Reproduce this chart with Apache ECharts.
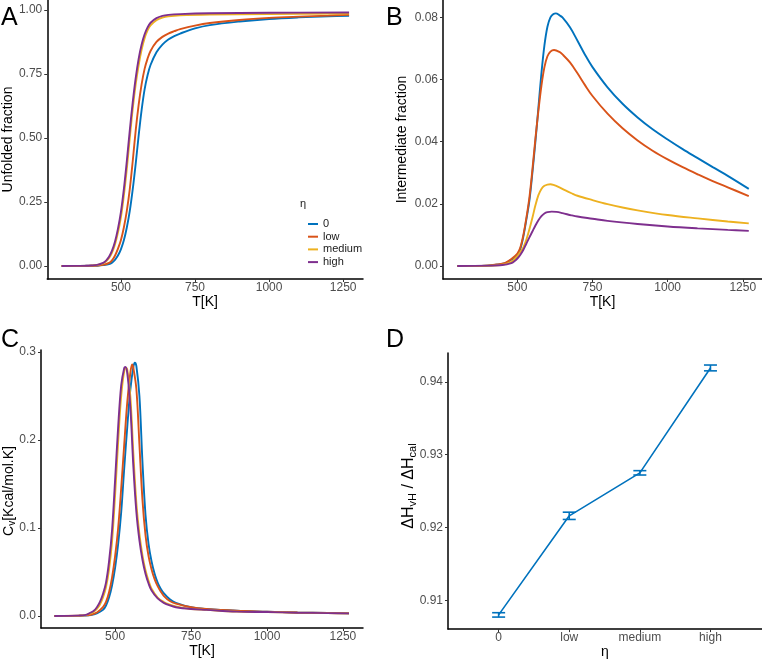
<!DOCTYPE html>
<html>
<head>
<meta charset="utf-8">
<script src="https://cdn.jsdelivr.net/npm/echarts@6/dist/echarts.min.js"></script>
<style>html,body{margin:0;padding:0;background:#fff;}#c{width:762px;height:660px;}</style>
</head>
<body>
<div id="c"></div>
<script>
// ---------- Data ----------
const seriesNames = ['0', 'low', 'medium', 'high'];
const colors = ['#0072BD', '#D95319', '#EDB120', '#7E2F8E'];

// Panel A: unfolded fraction
const A0_T = [300,400,420,440,460,470,480,490,500,510,520,530,540,550,560,570,580,590,600,620,640,660,680,700,750,800,900,1000,1100,1200,1270];
const A0_v = [0,0.0005,0.001,0.003,0.007,0.013,0.024,0.041,0.065,0.10,0.15,0.215,0.30,0.40,0.51,0.61,0.69,0.745,0.785,0.835,0.865,0.885,0.898,0.908,0.928,0.941,0.955,0.965,0.971,0.975,0.977];
const A1_T = [300,400,420,440,460,470,480,490,500,510,520,530,540,550,560,570,580,590,600,620,640,660,680,700,750,800,900,1000,1100,1200,1270];
const A1_v = [0,0.0007,0.0015,0.004,0.012,0.022,0.04,0.067,0.10,0.15,0.215,0.30,0.41,0.53,0.63,0.71,0.77,0.81,0.84,0.875,0.895,0.908,0.917,0.925,0.939,0.949,0.961,0.969,0.974,0.978,0.981];
const A2_T = [300,380,400,420,440,450,460,470,480,490,500,510,520,530,540,550,560,570,580,590,600,620,640,660,700,800,1000,1270];
const A2_v = [0,0.0004,0.0012,0.0035,0.010,0.018,0.031,0.052,0.084,0.13,0.19,0.275,0.38,0.50,0.615,0.71,0.785,0.845,0.89,0.92,0.94,0.96,0.97,0.975,0.979,0.982,0.984,0.986];
const A3_T = [300,380,400,420,440,450,460,470,480,490,500,510,520,530,540,550,560,570,580,590,600,620,640,660,700,800,1000,1270];
const A3_v = [0,0.0005,0.0015,0.004,0.012,0.021,0.036,0.06,0.095,0.145,0.21,0.30,0.41,0.53,0.64,0.735,0.81,0.865,0.905,0.932,0.95,0.968,0.977,0.981,0.984,0.987,0.989,0.99];

// Panel B: intermediate fraction
const B0_T = [300,400,440,460,480,500,510,520,530,540,550,560,570,580,590,600,610,620,628,640,650,675,700,725,750,800,850,900,950,1000,1050,1100,1150,1200,1270];
const B0_v = [0,0.0001,0.0005,0.0009,0.002,0.0035,0.0055,0.0095,0.015,0.021,0.030,0.040,0.051,0.062,0.071,0.077,0.080,0.0811,0.0813,0.0807,0.0800,0.0768,0.0725,0.0680,0.0640,0.0575,0.0522,0.0478,0.0440,0.0407,0.0376,0.0347,0.0318,0.0290,0.0248];
const B1_T = [300,400,440,460,480,500,510,520,530,540,550,560,570,580,590,600,610,622,640,650,675,700,725,750,800,850,900,950,1000,1050,1100,1150,1200,1270];
const B1_v = [0,0.0001,0.0006,0.001,0.0022,0.004,0.006,0.010,0.0155,0.022,0.031,0.041,0.050,0.058,0.064,0.0675,0.069,0.0695,0.0689,0.0681,0.0655,0.0620,0.0582,0.0547,0.0490,0.0443,0.0404,0.0371,0.0343,0.0318,0.0295,0.0273,0.0253,0.0225];
const B2_T = [300,400,450,480,490,500,510,520,530,540,550,560,570,580,590,600,610,620,640,660,680,700,750,800,850,900,1000,1100,1200,1270];
const B2_v = [0,0.0001,0.0004,0.0013,0.0022,0.0032,0.0045,0.006,0.0085,0.0118,0.0155,0.0195,0.0228,0.0248,0.0258,0.0262,0.0263,0.0261,0.0253,0.0243,0.0234,0.0226,0.0212,0.0199,0.0188,0.0179,0.0164,0.0153,0.0143,0.0137];
const B3_T = [300,400,450,480,490,500,510,520,530,540,550,560,570,580,590,600,614,630,650,680,700,750,800,900,1000,1100,1200,1270];
const B3_v = [0,0.0001,0.0003,0.0009,0.0015,0.0024,0.0036,0.0052,0.0072,0.0092,0.0111,0.0130,0.0147,0.0160,0.0169,0.0173,0.0175,0.0174,0.0170,0.0163,0.0159,0.0152,0.0145,0.0135,0.0127,0.0121,0.0116,0.0113];

// Panel C: heat capacity
const C0_T = [300,400,420,440,460,470,480,490,500,510,520,530,540,550,560,565,570,580,590,600,610,620,630,640,650,660,680,700,750,800,900,1000,1100,1200,1270];
const C0_v = [0,0.0005,0.001,0.003,0.007,0.012,0.021,0.035,0.055,0.082,0.118,0.168,0.215,0.257,0.283,0.288,0.284,0.250,0.175,0.115,0.082,0.062,0.048,0.038,0.031,0.026,0.019,0.015,0.010,0.008,0.006,0.005,0.004,0.0035,0.003];
const C1_T = [300,400,420,440,460,470,480,490,500,510,520,530,540,550,556,560,570,580,590,600,610,620,630,640,650,660,680,700,750,800,900,1000,1100,1200,1270];
const C1_v = [0,0.0007,0.0015,0.004,0.010,0.016,0.027,0.044,0.068,0.100,0.145,0.195,0.243,0.276,0.286,0.282,0.258,0.195,0.132,0.092,0.068,0.053,0.042,0.034,0.028,0.023,0.017,0.014,0.010,0.008,0.006,0.005,0.004,0.0035,0.003];
const C2_T = [300,380,400,420,430,440,450,460,470,480,490,500,510,520,530,537,540,550,560,570,580,590,600,610,620,640,660,680,700,750,800,900,1000,1100,1200,1270];
const C2_v = [0,0.0004,0.0008,0.003,0.005,0.008,0.013,0.021,0.033,0.053,0.085,0.138,0.198,0.250,0.278,0.282,0.280,0.250,0.185,0.128,0.093,0.069,0.052,0.040,0.031,0.021,0.016,0.013,0.011,0.008,0.007,0.005,0.0045,0.0038,0.0033,0.003];
const C3_T = [300,380,400,420,430,440,450,460,470,480,490,500,510,520,530,534,540,550,560,570,580,590,600,610,620,640,660,680,700,750,800,900,1000,1100,1200,1270];
const C3_v = [0,0.0005,0.001,0.004,0.006,0.010,0.016,0.025,0.038,0.062,0.098,0.155,0.215,0.262,0.282,0.283,0.276,0.238,0.170,0.118,0.086,0.064,0.048,0.037,0.029,0.020,0.015,0.012,0.010,0.008,0.007,0.005,0.0045,0.0038,0.0033,0.003];

// Panel D: ratio with error bars
const D_cats = ['0', 'low', 'medium', 'high'];
const D_mean = [0.9080, 0.9216, 0.9275, 0.9419];
const D_err = [0.0003, 0.0005, 0.0003, 0.0004];

// Tick labels
const T_ticks = [500, 750, 1000, 1250];
const A_ticks = [0, 0.25, 0.5, 0.75, 1.0];
const B_ticks = [0, 0.02, 0.04, 0.06, 0.08];
const C_ticks = [0, 0.1, 0.2, 0.3];
const D_ticks = [0.91, 0.92, 0.93, 0.94];

// ---------- Build ----------
const FONT = "'Liberation Sans', Arial, sans-serif";
const pairs = (T, v) => T.map((t, i) => [t, v[i]]);

function xAxisT(gridIndex, min, max) {
  return {
    type: 'value', gridIndex, min, max,
    name: 'T[K]', nameLocation: 'middle', nameGap: 16,
    nameTextStyle: { fontSize: 14, color: '#000', fontFamily: FONT },
    axisLine: { show: true, onZero: false, lineStyle: { color: '#000', width: 1.5 } },
    axisTick: { show: true, length: 3, customValues: T_ticks, lineStyle: { color: '#333', width: 1 } },
    axisLabel: { customValues: T_ticks, color: '#4d4d4d', fontSize: 12, margin: 3, fontFamily: FONT,
      formatter: v => String(Math.round(v)) },
    splitLine: { show: false }
  };
}
function yAxisV(gridIndex, min, max, ticks, digits, name, gap) {
  return {
    type: 'value', gridIndex, min, max,
    name, nameLocation: 'middle', nameGap: gap,
    nameTextStyle: { fontSize: 14, color: '#000', fontFamily: FONT },
    axisLine: { show: true, onZero: false, lineStyle: { color: '#000', width: 1.5 } },
    axisTick: { show: true, length: 3, customValues: ticks, lineStyle: { color: '#333', width: 1 } },
    axisLabel: { customValues: ticks, color: '#4d4d4d', fontSize: 12, margin: 5, fontFamily: FONT,
      formatter: v => Number(v).toFixed(digits) },
    splitLine: { show: false }
  };
}

const subRich = {
  a: { fontSize: 14, fill: '#000', fontFamily: FONT, lineHeight: 17, verticalAlign: 'middle' },
  s: { fontSize: 10, fill: '#000', fontFamily: FONT, lineHeight: 10, padding: [10, 0, 0, 0], verticalAlign: 'bottom' }
};

const series = [];
const panelData = [
  [[A0_T, A0_v], [A1_T, A1_v], [A2_T, A2_v], [A3_T, A3_v]],
  [[B0_T, B0_v], [B1_T, B1_v], [B2_T, B2_v], [B3_T, B3_v]],
  [[C0_T, C0_v], [C1_T, C1_v], [C2_T, C2_v], [C3_T, C3_v]]
];
panelData.forEach((arr, p) => {
  arr.forEach(([T, v], k) => {
    series.push({
      type: 'line', name: seriesNames[k], xAxisIndex: p, yAxisIndex: p,
      data: pairs(T, v), showSymbol: false, smooth: 0.35,
      lineStyle: { color: colors[k], width: 1.9 }, itemStyle: { color: colors[k] },
      z: 2 + k
    });
  });
});

series.push({
  type: 'line', name: 'ratio', xAxisIndex: 3, yAxisIndex: 3,
  data: D_mean.map((m, i) => [i + 1, m]), showSymbol: false,
  lineStyle: { color: colors[0], width: 1.6 }, itemStyle: { color: colors[0] }
});
series.push({
  type: 'custom', name: 'err', xAxisIndex: 3, yAxisIndex: 3,
  data: D_mean.map((m, i) => [i + 1, m - D_err[i], m + D_err[i]]),
  renderItem: function (params, api) {
    const x = api.value(0);
    const lo = api.coord([x, api.value(1)]);
    const hi = api.coord([x, api.value(2)]);
    const w = 6.5;
    const st = { stroke: colors[0], lineWidth: 1.6 };
    return { type: 'group', children: [
      { type: 'line', shape: { x1: lo[0], y1: lo[1], x2: hi[0], y2: hi[1] }, style: st },
      { type: 'line', shape: { x1: lo[0] - w, y1: lo[1], x2: lo[0] + w, y2: lo[1] }, style: st },
      { type: 'line', shape: { x1: hi[0] - w, y1: hi[1], x2: hi[0] + w, y2: hi[1] }, style: st }
    ]};
  },
  z: 5
});

const option = {
  animation: false,
  textStyle: { fontFamily: FONT },
  grid: [
    { left: 45, top: 0, width: 318, height: 279 },
    { left: 443, top: 0, width: 319, height: 279 },
    { left: 41, top: 350, width: 322, height: 278 },
    { left: 448, top: 353, width: 314, height: 278 }
  ],
  xAxis: [
    xAxisT(0, 251.5, 1317),
    xAxisT(1, 252.5, 1314),
    xAxisT(2, 256, 1316),
    {
      type: 'value', gridIndex: 3, min: 0.283, max: 4.73,
      name: 'η', nameLocation: 'middle', nameGap: 15,
      nameTextStyle: { fontSize: 14, color: '#000', fontFamily: FONT },
      axisLine: { show: true, onZero: false, lineStyle: { color: '#000', width: 1.5 } },
      axisTick: { show: true, length: 3, customValues: [1, 2, 3, 4], lineStyle: { color: '#333', width: 1 } },
      axisLabel: { customValues: [1, 2, 3, 4], color: '#4d4d4d', fontSize: 12, margin: 3, fontFamily: FONT,
        formatter: v => D_cats[Math.round(v) - 1] },
      splitLine: { show: false }
    }
  ],
  yAxis: [
    yAxisV(0, -0.051, 1.039, A_ticks, 2, 'Unfolded fraction', 31),
    yAxisV(1, -0.0042, 0.0856, B_ticks, 2, 'Intermediate fraction', 34),
    yAxisV(2, -0.0136, 0.3023, C_ticks, 1, '', 26),
    yAxisV(3, 0.90605, 0.94395, D_ticks, 2, '', 33)
  ],
  legend: {
    left: 303, top: 213, orient: 'vertical', icon: 'rect', itemWidth: 10, itemHeight: 2, itemGap: 0.7,
    textStyle: { fontSize: 11, color: '#1a1a1a', lineHeight: 12, fontFamily: FONT },
    data: seriesNames
  },
  graphic: [
    { type: 'text', left: 300, top: 198, style: { text: 'η', fontSize: 11, fill: '#1a1a1a', fontFamily: FONT } },
    { type: 'text', left: 1, top: 6, style: { text: 'A', fontSize: 25, fill: '#000', fontFamily: FONT } },
    { type: 'text', left: 386, top: 6, style: { text: 'B', fontSize: 25, fill: '#000', fontFamily: FONT } },
    { type: 'text', left: 1, top: 328, style: { text: 'C', fontSize: 25, fill: '#000', fontFamily: FONT } },
    { type: 'text', left: 386, top: 328, style: { text: 'D', fontSize: 25, fill: '#000', fontFamily: FONT } },
    { type: 'text', x: 9, y: 491, rotation: Math.PI / 2,
      style: { text: '{a|C}{s|v}{a|[Kcal/mol.K]}', rich: subRich, align: 'center', verticalAlign: 'middle' } },
    { type: 'text', x: 409, y: 486, rotation: Math.PI / 2,
      style: { text: '{a|ΔH}{s|vH}{a| / ΔH}{s|cal}',
        rich: {
          a: { fontSize: 16, fill: '#000', fontFamily: FONT, lineHeight: 19, verticalAlign: 'middle' },
          s: { fontSize: 11, fill: '#000', fontFamily: FONT, lineHeight: 11, padding: [11, 0, 0, 0], verticalAlign: 'bottom' }
        },
        align: 'center', verticalAlign: 'middle' } }
  ],
  series
};

const chart = echarts.init(document.getElementById('c'), null, { renderer: 'canvas' });
chart.setOption(option);
</script>
</body>
</html>
